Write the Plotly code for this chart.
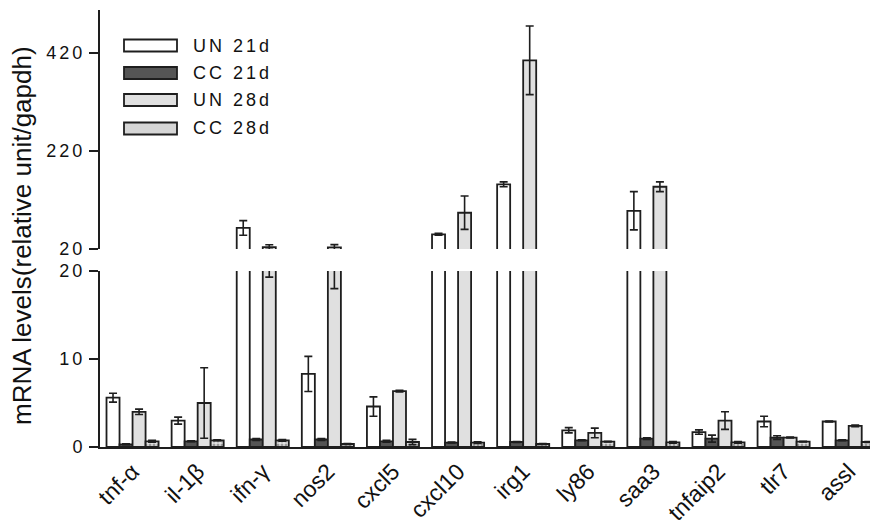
import plotly.graph_objects as go

categories = ["tnf-α", "il-1β", "ifn-γ", "nos2", "cxcl5", "cxcl10", "irg1", "ly86", "saa3", "tnfaip2", "tlr7", "assl"]

un21 = [5.6, 3.0, 63, 8.3, 4.6, 50, 152, 1.9, 98, 1.7, 2.9, 2.9]
un21_err = [0.5, 0.4, 15, 2.0, 1.1, 2, 5, 0.3, 39, 0.25, 0.6, 0.05]

cc21 = [0.3, 0.65, 0.85, 0.85, 0.65, 0.5, 0.57, 0.76, 0.95, 0.95, 1.07, 0.76]
cc21_err = [0.05, 0.05, 0.1, 0.1, 0.1, 0.05, 0.05, 0.05, 0.1, 0.4, 0.2, 0.05]

un28 = [4.0, 5.0, 24, 23.5, 6.35, 94, 405, 1.6, 147, 3.0, 1.07, 2.4]
un28_err = [0.3, 4.0, 4.7, 5.5, 0.1, 34, 70, 0.55, 10, 1.0, 0.05, 0.1]

cc28 = [0.65, 0.76, 0.76, 0.34, 0.57, 0.5, 0.34, 0.61, 0.53, 0.53, 0.61, 0.57]
cc28_err = [0.1, 0.05, 0.1, 0.05, 0.3, 0.1, 0.05, 0.05, 0.1, 0.1, 0.05, 0.05]

series_names = ["UN 21d", "CC 21d", "UN 28d", "CC 28d"]
upper_ticks = [20, 220, 420]
lower_ticks = [0, 10, 20]

FONT = "Liberation Sans, Arial, sans-serif"
INK = "#1e1e1e"
LS = "letter-spacing:3px"


def sp(t, ls=LS):
    return f'<span style="{ls}">{t}</span>'


styles = [
    dict(color="#ffffff"),
    dict(color="#555555"),
    dict(color="#e0e0e0"),
    dict(color="#e2e2e2", pattern=dict(shape=".", fgcolor="#555555", bgcolor="#e2e2e2", size=4, solidity=0.45)),
]
data = [(un21, un21_err), (cc21, cc21_err), (un28, un28_err), (cc28, cc28_err)]

fig = go.Figure()
xs = list(range(len(categories)))
for yax in ["y", "y2"]:
    for (vals, errs), st, nm in zip(data, styles, series_names):
        fig.add_trace(go.Bar(
            x=xs, y=vals, name=nm, showlegend=False,
            xaxis="x" if yax == "y" else "x2", yaxis=yax,
            marker=dict(line=dict(color=INK, width=1.8), **st),
            error_y=dict(type="data", array=errs, visible=True, color=INK, thickness=1.6, width=4),
        ))

# page body has an 8px margin: work in screen pixels and convert
OFF = 8
SW, SH = 878, 526
W, H = SW - OFF, SH - OFF
scr_left, scr_top, scr_base = 100, 10, 447
L = scr_left - OFF
T = scr_top - OFF
B = SH - scr_base
pw = W - L
ph = H - T - B


def px_x(p):
    return (p - scr_left) / pw


def px_y(p):
    return (scr_base - p) / ph


lower_dom = [0, px_y(271)]
upper_dom = [px_y(249), 1]

axis_common = dict(showline=True, linewidth=2, linecolor=INK, ticks="outside", ticklen=9,
                   tickwidth=2, tickcolor=INK, showgrid=False, zeroline=False, automargin=False,
                   tickfont=dict(family=FONT, size=18, color="#111"))

fig.update_layout(
    width=W, height=H,
    margin=dict(l=L, r=0, t=T, b=B, autoexpand=False),
    paper_bgcolor="white", plot_bgcolor="white",
    barmode="group", bargap=0.2, bargroupgap=0,
    showlegend=False,
    xaxis=dict(domain=[0, 1], range=[-0.5, 11.45], anchor="y", showline=True, linewidth=2,
               linecolor=INK, ticks="", showgrid=False, zeroline=False, automargin=False,
               tickmode="array", tickvals=xs, ticktext=categories,
               tickangle=-45, tickfont=dict(family=FONT, size=23, color="#111")),
    xaxis2=dict(domain=[0, 1], range=[-0.5, 11.45], anchor="y2", matches="x", visible=False),
    yaxis=dict(domain=lower_dom, range=[0, 20], tickmode="array", tickvals=lower_ticks,
               ticktext=[sp(v) for v in lower_ticks], **axis_common),
    yaxis2=dict(domain=upper_dom, range=[20, 507.7], tickmode="array", tickvals=upper_ticks,
                ticktext=[sp(v) for v in upper_ticks], **axis_common),
)

# y-axis title
fig.add_annotation(xref="paper", yref="paper", x=px_x(22), y=px_y(236), text="mRNA levels(relative unit/gapdh)",
                   textangle=-90, showarrow=False, xanchor="center", yanchor="middle",
                   font=dict(family=FONT, size=26, color="#111"))

# legend (manual swatches)
legend_fill = ["#ffffff", "#555555", "#e0e0e0", "#d6d6d6"]
rows = [45.5, 73, 100, 128.5]
for nm, fc, ry in zip(series_names, legend_fill, rows):
    fig.add_shape(type="rect", xref="paper", yref="paper", x0=px_x(124), x1=px_x(177),
                  y0=px_y(ry + 6), y1=px_y(ry - 6), fillcolor=fc, line=dict(color=INK, width=1.8))
    fig.add_annotation(xref="paper", yref="paper", x=px_x(191), y=px_y(ry), text=sp(nm),
                       showarrow=False, xanchor="left", yanchor="middle",
                       font=dict(family=FONT, size=18, color="#111"))

fig.write_html("out.html")
